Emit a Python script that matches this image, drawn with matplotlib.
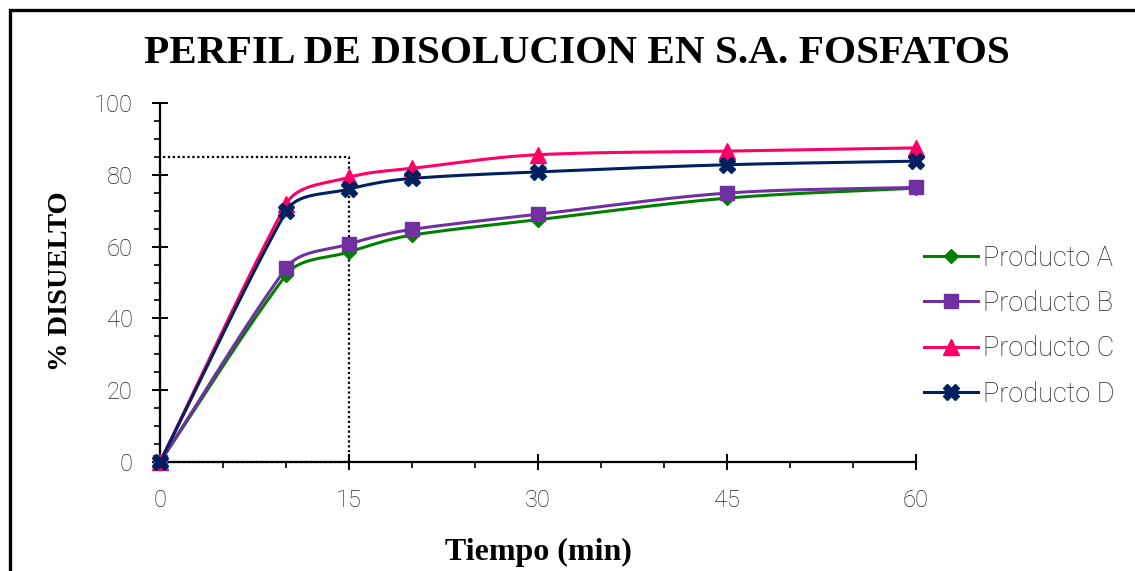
import numpy as np
import matplotlib
matplotlib.use("Agg")
import matplotlib.pyplot as plt
from matplotlib.patches import Rectangle
from matplotlib.lines import Line2D
from matplotlib.ticker import MultipleLocator

# Dissolution profile data (% dissolved vs time in minutes)
tiempo = [0, 10, 15, 20, 30, 45, 60]
producto_a = [0, 52.1, 58.5, 63.2, 67.5, 73.5, 76.3]
producto_b = [0, 54.0, 60.7, 64.8, 69.0, 74.9, 76.5]
producto_c = [0, 71.8, 79.3, 81.8, 85.6, 86.6, 87.5]
producto_d = [0, 69.8, 76.0, 79.0, 80.8, 82.8, 83.8]

series_names = ["Producto A", "Producto B", "Producto C", "Producto D"]
series_values = [producto_a, producto_b, producto_c, producto_d]
series_colors = ["#008000", "#7030A0", "#FF0066", "#002060"]
series_markers = ["D", "s", "^", "X"]
series_msizes = [7, 10, 11.5, 12]

# Q-value reference box: 85 % at 15 min
q_time = 15
q_value = 85

title = "PERFIL DE DISOLUCION EN S.A. FOSFATOS"
xlabel = "Tiempo (min)"
ylabel = "% DISUELTO"
xticks = [0, 15, 30, 45, 60]
yticks = [0, 20, 40, 60, 80, 100]

serif = "Liberation Serif"
sans = "Roboto"
text_grey = "#222222"

W, H = 1135, 571
ax_left, ax_right, ax_bottom, ax_top = 160, 916, 462, 103


def smooth(x, y, sx, sy, n=40):
    """Bezier smoothing in screen space: the tangent at each point leans
    towards the longer neighbouring segment; handles are a third of the
    segment length."""
    p = np.column_stack([np.asarray(x, float) * sx, np.asarray(y, float) * sy])
    m = len(p)
    tang = np.zeros_like(p)
    for i in range(m):
        d = np.zeros(2)
        if i > 0:
            seg = p[i] - p[i - 1]
            d += seg * np.hypot(*seg)
        if i < m - 1:
            seg = p[i + 1] - p[i]
            d += seg * np.hypot(*seg)
        tang[i] = d / np.hypot(*d)
    t = np.linspace(0, 1, n)[:, None]
    out = []
    for i in range(m - 1):
        p0, p1 = p[i], p[i + 1]
        L = np.hypot(*(p1 - p0)) / 3.0
        c1 = p0 + tang[i] * L
        c2 = p1 - tang[i + 1] * L
        seg = ((1 - t) ** 3) * p0 + 3 * ((1 - t) ** 2) * t * c1 + 3 * (1 - t) * t ** 2 * c2 + t ** 3 * p1
        out.append(seg if i == 0 else seg[1:])
    s = np.vstack(out)
    return s[:, 0] / sx, s[:, 1] / sy


fig = plt.figure(figsize=(W / 100, H / 100), dpi=100)
fig.patch.set_facecolor("white")

ax = fig.add_axes([ax_left / W, 1 - ax_bottom / H, (ax_right - ax_left) / W, (ax_bottom - ax_top) / H])
ax.set_xlim(0, 60)
ax.set_ylim(0, 100)
px_x = (ax_right - ax_left) / 60.0
px_y = (ax_bottom - ax_top) / 100.0

for sp in ("top", "right"):
    ax.spines[sp].set_visible(False)
for sp in ("left", "bottom"):
    ax.spines[sp].set_linewidth(1.6)
    ax.spines[sp].set_color("black")

ax.set_xticks(xticks)
ax.set_yticks(yticks)
ax.xaxis.set_minor_locator(MultipleLocator(5))
ax.yaxis.set_minor_locator(MultipleLocator(5))
ax.tick_params(which="major", direction="inout", length=11, width=1.4, color="black")
ax.tick_params(which="minor", direction="out", length=4.5, width=1.2, color="black")
ax.tick_params(axis="y", which="major", pad=14)
ax.tick_params(axis="x", which="major", pad=14)
for lab in ax.get_xticklabels() + ax.get_yticklabels():
    lab.set_fontfamily(sans)
    lab.set_fontweight("light")
    lab.set_fontsize(17)
    lab.set_color(text_grey)

# dotted reference box
ax.plot([0, 0, q_time, q_time, 0], [0, q_value, q_value, 0, 0],
        ls=(0, (1, 1.2)), color="black", lw=1.6, zorder=2, clip_on=False)

handles = []
for name, vals, col, mk, ms in zip(series_names, series_values, series_colors, series_markers, series_msizes):
    sx, sy = smooth(tiempo, vals, px_x, px_y)
    ax.plot(sx, sy, color=col, lw=2.2, zorder=3, clip_on=False, solid_capstyle="round")
    ax.plot(tiempo, vals, ls="none", marker=mk, ms=ms, color=col, mec=col, zorder=4, clip_on=False)
    handles.append(Line2D([], [], color=col, lw=2.2, marker=mk, ms=ms, mec=col, label=name))

leg = fig.legend(handles=handles, loc="upper left", bbox_to_anchor=(910 / W, 1 - 231 / H),
                 frameon=False, prop={"family": sans, "weight": "light", "size": 19.5},
                 handlelength=2.0, handletextpad=0.18, labelspacing=0.68, borderpad=0)
for t in leg.get_texts():
    t.set_color(text_grey)

fig.text(577 / W, 1 - 63 / H, title, ha="center", va="baseline",
         fontfamily=serif, fontweight="bold", fontsize=29.7)
fig.text(538 / W, 1 - 560 / H, xlabel, ha="center", va="baseline",
         fontfamily=serif, fontweight="bold", fontsize=23)
fig.text(67 / W, 1 - 281 / H, ylabel, ha="center", va="baseline", rotation=90,
         rotation_mode="anchor", fontfamily=serif, fontweight="bold", fontsize=20.5)

# outer chart frame
fig.add_artist(Rectangle((10 / W, -0.2), 1.2, 1 - 10 / H + 0.2, transform=fig.transFigure,
                         fill=False, ec="black", lw=2.4, clip_on=False))

fig.savefig("out.png", dpi=100, facecolor="white")
